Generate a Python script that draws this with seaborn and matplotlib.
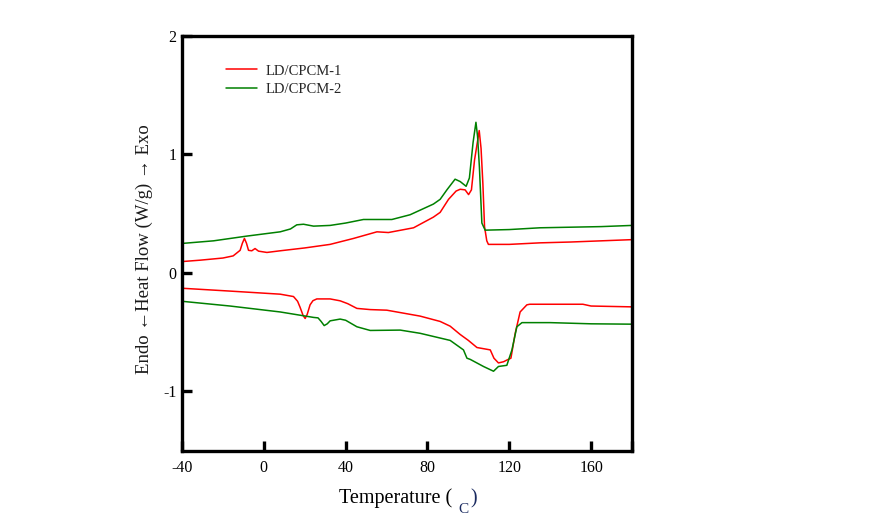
import numpy as np
import pandas as pd
import matplotlib
matplotlib.use("Agg")
import matplotlib.pyplot as plt
import seaborn as sns

# ---- data ----
red_heat_x = [-40, -31, -20, -15, -11.6, -10.5, -9.5, -8.5, -7.5, -5.9, -4.3, -2.6, 1.5, 8, 20, 32.4,
              43.8, 55.3, 60.9, 73.2, 82.9, 86.2, 90.3, 94, 96, 98.4, 100.1, 101.5, 103, 105.3,
              106.2, 107.1, 107.9, 109, 109.8, 120, 135, 150, 165, 180]
red_heat_y = [0.095, 0.107, 0.125, 0.143, 0.19, 0.25, 0.29, 0.25, 0.19, 0.186, 0.205, 0.183, 0.172,
              0.186, 0.21, 0.24, 0.29, 0.346, 0.34, 0.38, 0.47, 0.51, 0.62, 0.69, 0.705, 0.70, 0.66,
              0.70, 0.95, 1.20, 1.05, 0.75, 0.39, 0.27, 0.24, 0.24, 0.253, 0.26, 0.27, 0.28]

green_heat_x = [-40, -24.6, -8.3, 8, 13, 16.1, 19.4, 24.3, 32.4, 40, 48.7, 62.6, 71.5, 82.9, 86.2,
                89.5, 93.5, 96, 98.9, 100.5, 102.3, 103.7, 104.5, 105.4, 106.6, 108.2, 120, 135,
                150, 165, 180]
green_heat_y = [0.248, 0.27, 0.31, 0.346, 0.37, 0.405, 0.41, 0.394, 0.40, 0.42, 0.45, 0.45, 0.49,
                0.58, 0.62, 0.70, 0.79, 0.77, 0.73, 0.80, 1.10, 1.27, 1.15, 0.89, 0.42, 0.36, 0.365,
                0.38, 0.385, 0.39, 0.40]

red_cool_x = [-40, -16.5, 8, 14.5, 16.5, 17.7, 19.2, 20.2, 21.2, 22.6, 24, 25.9, 32.4, 37.3, 41,
              45.5, 52, 60.1, 76.4, 86.2, 91.1, 96, 100, 104.2, 110.7, 112.5, 114.7, 117.2, 118.8,
              120.8, 122.9, 125.3, 128.6, 130, 156, 160, 180]
red_cool_y = [-0.13, -0.154, -0.18, -0.20, -0.24, -0.29, -0.36, -0.385, -0.35, -0.27, -0.235, -0.22,
              -0.22, -0.236, -0.26, -0.30, -0.31, -0.315, -0.365, -0.41, -0.45, -0.52, -0.57, -0.63,
              -0.65, -0.72, -0.76, -0.75, -0.736, -0.72, -0.51, -0.33, -0.27, -0.265, -0.265, -0.28,
              -0.287]

green_cool_x = [-40, -16.5, 8, 24.3, 26.5, 28, 29.5, 31, 32.4, 37.3, 40, 45.5, 52, 66.7, 76.4, 86.2,
                91.1, 97.6, 99.3, 100.9, 107.4, 112.3, 114.7, 118.8, 121.3, 123.7, 126.2, 140, 160,
                180]
green_cool_y = [-0.24, -0.28, -0.33, -0.376, -0.38, -0.41, -0.445, -0.43, -0.405, -0.39, -0.40,
                -0.455, -0.486, -0.483, -0.51, -0.55, -0.57, -0.65, -0.72, -0.73, -0.79, -0.83, -0.79,
                -0.78, -0.65, -0.455, -0.42, -0.42, -0.43, -0.433]

series_names = ["LD/CPCM-1", "LD/CPCM-2"]
x_ticks = [-40, 0, 40, 80, 120, 160]
y_ticks = [-1, 0, 1, 2]

# ---- build frame ----
frames = []
for name, seg, xs, ys in [
    (series_names[0], "heat", red_heat_x, red_heat_y),
    (series_names[0], "cool", red_cool_x, red_cool_y),
    (series_names[1], "heat", green_heat_x, green_heat_y),
    (series_names[1], "cool", green_cool_x, green_cool_y),
]:
    frames.append(pd.DataFrame({"T": xs, "HF": ys, "sample": name, "seg": name + seg}))
df = pd.concat(frames, ignore_index=True)

sns.set_theme(style="white")
plt.rcParams["font.family"] = ["Liberation Serif", "DejaVu Serif"]

fig = plt.figure(figsize=(8.88, 5.18), dpi=100)
ax = fig.add_axes([0.205, 0.130, 0.5067, 0.801])

palette = {series_names[0]: "#ff0000", series_names[1]: "#008000"}
sns.lineplot(data=df, x="T", y="HF", hue="sample", units="seg", estimator=None, sort=False,
             palette=palette, linewidth=1.1, ax=ax, legend=True)

ax.set_xlim(-40, 180)
ax.set_ylim(-1.5, 2)
ax.set_xticks(x_ticks + [180])
ax.set_xticklabels([str(v) for v in x_ticks] + [""])
ax.set_yticks(y_ticks)
ax.set_yticklabels([str(v) for v in y_ticks])

for sp in ax.spines.values():
    sp.set_visible(True)
    sp.set_linewidth(2.4)
    sp.set_color("black")

ax.tick_params(axis="both", direction="in", length=7, width=2.4, labelsize=11.5, colors="black",
               bottom=True, left=True, top=False, right=False)
ax.tick_params(axis="x", pad=7)
ax.tick_params(axis="y", pad=4)

ax.set_xlabel("")
ax.set_ylabel("Endo \u2190Heat Flow (W/g) \u2192 Exo", fontsize=13.5, color="#1a1a1a")
ax.yaxis.set_label_coords(-0.064, 0.485)

# x axis label pieces
fig.text(452 / 888, 1 - 503 / 518, "Temperature (", fontsize=14.5, color="black",
         ha="right", va="baseline")
fig.text(463 / 888, 0.004, "C", fontsize=11, color="#1a2a60", ha="center", va="bottom")
fig.text(470 / 888, 1 - 503 / 518, ")", fontsize=14.5, color="#1a2a60", ha="left", va="baseline")

leg = ax.legend(loc="upper left", bbox_to_anchor=(0.085, 0.945), frameon=False, fontsize=10.5,
                handlelength=2.1, handletextpad=0.6, labelspacing=0.35, borderaxespad=0)
for line in leg.get_lines():
    line.set_linewidth(1.1)

fig.savefig("out.png", dpi=100)
